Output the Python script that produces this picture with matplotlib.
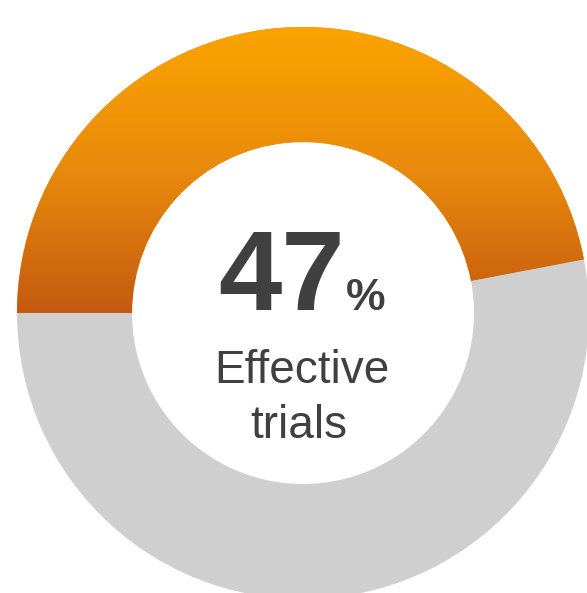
import numpy as np
import matplotlib.pyplot as plt
from matplotlib.colors import LinearSegmentedColormap

plt.rcParams['font.family'] = ['Liberation Sans', 'DejaVu Sans']

# data
values = [47, 53]
big_label = "47"
unit_label = "%"
sub_label = "Effective\ntrials"

W, H = 587, 593
cx, cy = 303, 593 - 313   # centre in data coords (y up)
r_out, r_in = 286, 171
text_col = "#404040"
grey = "#D0CFD0"

fig = plt.figure(figsize=(W / 100, H / 100), dpi=100)
ax = fig.add_axes([0, 0, 1, 1])

wedges, _ = ax.pie(values, center=(cx, cy), radius=r_out, startangle=180,
                   counterclock=False, colors=["#E07F0A", grey],
                   wedgeprops=dict(width=r_out - r_in, linewidth=0))
ax.set_xlim(0, W)
ax.set_ylim(0, H)
ax.set_aspect('auto')
ax.axis('off')

# vertical orange gradient inside the first wedge
cmap = LinearSegmentedColormap.from_list("org", ["#C55A11", "#E98A0B", "#FBA400"])
grad = np.linspace(0, 1, 256).reshape(-1, 1)
top = cy + r_out
im = ax.imshow(grad, cmap=cmap, origin='lower', aspect='auto',
               extent=(cx - r_out, cx + r_out, cy, top), zorder=3)
im.set_clip_path(wedges[0])
ax.set_xlim(0, W)
ax.set_ylim(0, H)

# centre text
ax.text(282, 593 - 310, big_label, ha='center', va='baseline', fontsize=82,
        fontweight='bold', color=text_col, zorder=5)
ax.text(366, 593 - 310, unit_label, ha='center', va='baseline', fontsize=32,
        fontweight='bold', color=text_col, zorder=5)
lines = sub_label.split("\n")
ax.text(302, 593 - 383, lines[0], ha='center', va='baseline', fontsize=33,
        color=text_col, zorder=5)
ax.text(299, 593 - 438, lines[1], ha='center', va='baseline', fontsize=33,
        color=text_col, zorder=5)

fig.savefig("out.png", dpi=100, facecolor='white')
